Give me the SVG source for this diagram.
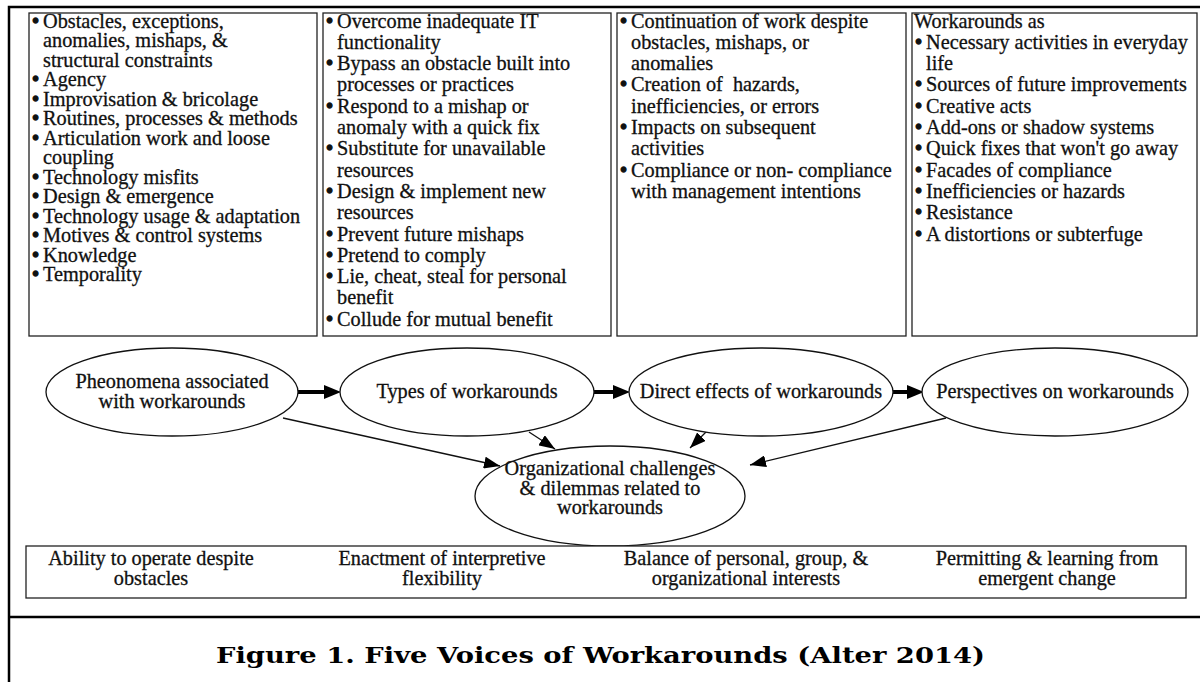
<svg xmlns="http://www.w3.org/2000/svg" width="1200" height="682" viewBox="0 0 1200 682">
<style>
.t{font-family:"Liberation Serif","Times New Roman",serif;font-size:20.3px;fill:#111;stroke:#111;stroke-width:0.3}
.b{stroke-width:1.3}
.c{text-anchor:middle}
.box{fill:#fff;stroke:#222;stroke-width:1.3}
.ell{fill:#fff;stroke:#111;stroke-width:1.3}
.frame{stroke:#000;stroke-width:2.5;fill:none}
.thick{stroke:#000;stroke-width:4;fill:none}
.thin{stroke:#111;stroke-width:1.3;fill:none}
.title{font-family:"DejaVu Serif","Liberation Serif",serif;font-weight:bold;font-size:23px;fill:#000}
</style>
<defs>
<marker id="big" viewBox="0 0 17 14" refX="0" refY="7" markerWidth="17" markerHeight="14" markerUnits="userSpaceOnUse" orient="auto"><path d="M0,0 L17,7 L0,14 z" fill="#000"/></marker>
<marker id="small" viewBox="0 0 16 12" refX="16" refY="6" markerWidth="16" markerHeight="12" markerUnits="userSpaceOnUse" orient="auto"><path d="M0,0 L16,6 L0,12 z" fill="#000"/></marker>
</defs>
<rect width="1200" height="682" fill="#fff"/>
<g id="frame">
<path class="frame" d="M9,682 V7 H1200"/>
<path class="frame" d="M9,617 H1200"/>
</g>
<g id="box1">
<rect class="box" x="29" y="13" width="288" height="323"/>
<text class="t"><tspan class="b" x="32" y="27.5">•</tspan><tspan x="43" y="27.5">Obstacles, exceptions,</tspan><tspan x="43" y="47">anomalies, mishaps, &amp;</tspan><tspan x="43" y="66.5">structural constraints</tspan><tspan class="b" x="32" y="86">•</tspan><tspan x="43" y="86">Agency</tspan><tspan class="b" x="32" y="105.5">•</tspan><tspan x="43" y="105.5">Improvisation &amp; bricolage</tspan><tspan class="b" x="32" y="125">•</tspan><tspan x="43" y="125">Routines, processes &amp; methods</tspan><tspan class="b" x="32" y="144.5">•</tspan><tspan x="43" y="144.5">Articulation work and loose</tspan><tspan x="43" y="164">coupling</tspan><tspan class="b" x="32" y="183.5">•</tspan><tspan x="43" y="183.5">Technology misfits</tspan><tspan class="b" x="32" y="203">•</tspan><tspan x="43" y="203">Design &amp; emergence</tspan><tspan class="b" x="32" y="222.5">•</tspan><tspan x="43" y="222.5">Technology usage &amp; adaptation</tspan><tspan class="b" x="32" y="242">•</tspan><tspan x="43" y="242">Motives &amp; control systems</tspan><tspan class="b" x="32" y="261.5">•</tspan><tspan x="43" y="261.5">Knowledge</tspan><tspan class="b" x="32" y="281">•</tspan><tspan x="43" y="281">Temporality</tspan></text>
</g>
<g id="box2">
<rect class="box" x="323" y="13" width="288" height="323"/>
<text class="t"><tspan class="b" x="326" y="27.5">•</tspan><tspan x="337" y="27.5">Overcome inadequate IT</tspan><tspan x="337" y="48.8">functionality</tspan><tspan class="b" x="326" y="70.1">•</tspan><tspan x="337" y="70.1">Bypass an obstacle built into</tspan><tspan x="337" y="91.4">processes or practices</tspan><tspan class="b" x="326" y="112.7">•</tspan><tspan x="337" y="112.7">Respond to a mishap or</tspan><tspan x="337" y="134">anomaly with a quick fix</tspan><tspan class="b" x="326" y="155.3">•</tspan><tspan x="337" y="155.3">Substitute for unavailable</tspan><tspan x="337" y="176.6">resources</tspan><tspan class="b" x="326" y="197.9">•</tspan><tspan x="337" y="197.9">Design &amp; implement new</tspan><tspan x="337" y="219.2">resources</tspan><tspan class="b" x="326" y="240.5">•</tspan><tspan x="337" y="240.5">Prevent future mishaps</tspan><tspan class="b" x="326" y="261.8">•</tspan><tspan x="337" y="261.8">Pretend to comply</tspan><tspan class="b" x="326" y="283.1">•</tspan><tspan x="337" y="283.1">Lie, cheat, steal for personal</tspan><tspan x="337" y="304.4">benefit</tspan><tspan class="b" x="326" y="325.7">•</tspan><tspan x="337" y="325.7">Collude for mutual benefit</tspan></text>
</g>
<g id="box3">
<rect class="box" x="617" y="13" width="289" height="323"/>
<text class="t"><tspan class="b" x="620" y="27.5">•</tspan><tspan x="631" y="27.5">Continuation of work despite</tspan><tspan x="631" y="48.8">obstacles, mishaps, or</tspan><tspan x="631" y="70.1">anomalies</tspan><tspan class="b" x="620" y="91.4">•</tspan><tspan x="631" y="91.4">Creation of&#160; hazards,</tspan><tspan x="631" y="112.7">inefficiencies, or errors</tspan><tspan class="b" x="620" y="134">•</tspan><tspan x="631" y="134">Impacts on subsequent</tspan><tspan x="631" y="155.3">activities</tspan><tspan class="b" x="620" y="176.6">•</tspan><tspan x="631" y="176.6">Compliance or non- compliance</tspan><tspan x="631" y="197.9">with management intentions</tspan></text>
</g>
<g id="box4">
<rect class="box" x="912" y="13" width="285" height="323"/>
<text class="t"><tspan x="914" y="27.5">Workarounds as</tspan><tspan class="b" x="915" y="48.8">•</tspan><tspan x="926" y="48.8">Necessary activities in everyday</tspan><tspan x="926" y="70.1">life</tspan><tspan class="b" x="915" y="91.4">•</tspan><tspan x="926" y="91.4">Sources of future improvements</tspan><tspan class="b" x="915" y="112.7">•</tspan><tspan x="926" y="112.7">Creative acts</tspan><tspan class="b" x="915" y="134">•</tspan><tspan x="926" y="134">Add-ons or shadow systems</tspan><tspan class="b" x="915" y="155.3">•</tspan><tspan x="926" y="155.3">Quick fixes that won't go away</tspan><tspan class="b" x="915" y="176.6">•</tspan><tspan x="926" y="176.6">Facades of compliance</tspan><tspan class="b" x="915" y="197.9">•</tspan><tspan x="926" y="197.9">Inefficiencies or hazards</tspan><tspan class="b" x="915" y="219.2">•</tspan><tspan x="926" y="219.2">Resistance</tspan><tspan class="b" x="915" y="240.5">•</tspan><tspan x="926" y="240.5">A distortions or subterfuge</tspan></text>
</g>
<g id="connectors">
<path class="thick" d="M298,392 H324" marker-end="url(#big)"/>
<path class="thick" d="M594,392 H613" marker-end="url(#big)"/>
<path class="thick" d="M893,392 H907" marker-end="url(#big)"/>
<path class="thin" d="M283,418 L500,466" marker-end="url(#small)"/>
<path class="thin" d="M529,432 L555,449" marker-end="url(#small)"/>
<path class="thin" d="M706,432 L690,448" marker-end="url(#small)"/>
<path class="thin" d="M946,418 L750,465" marker-end="url(#small)"/>
</g>
<g id="n1">
<ellipse class="ell" cx="172" cy="392" rx="126" ry="44"/>
<text class="t c"><tspan x="172" y="388">Pheonomena associated</tspan><tspan x="172" y="408">with workarounds</tspan></text>
</g>
<g id="n2">
<ellipse class="ell" cx="467" cy="392" rx="127" ry="44"/>
<text class="t c" x="467" y="398">Types of workarounds</text>
</g>
<g id="n3">
<ellipse class="ell" cx="761" cy="392" rx="132" ry="44"/>
<text class="t c" x="761" y="398">Direct effects of workarounds</text>
</g>
<g id="n4">
<ellipse class="ell" cx="1055" cy="392" rx="133" ry="44"/>
<text class="t c" x="1055" y="398">Perspectives on workarounds</text>
</g>
<g id="n5">
<ellipse class="ell" cx="610" cy="496" rx="135" ry="50"/>
<text class="t c"><tspan x="610" y="475">Organizational challenges</tspan><tspan x="610" y="494.5">&amp; dilemmas related to</tspan><tspan x="610" y="514">workarounds</tspan></text>
</g>
<g id="bottom">
<rect class="box" x="26" y="546" width="1160" height="52"/>
<text class="t c"><tspan x="151" y="565">Ability to operate despite</tspan><tspan x="151" y="585">obstacles</tspan></text>
<text class="t c"><tspan x="442" y="565">Enactment of interpretive</tspan><tspan x="442" y="585">flexibility</tspan></text>
<text class="t c"><tspan x="746" y="565">Balance of personal, group, &amp;</tspan><tspan x="746" y="585">organizational interests</tspan></text>
<text class="t c"><tspan x="1047" y="565">Permitting &amp; learning from</tspan><tspan x="1047" y="585">emergent change</tspan></text>
</g>
<text class="title" x="216" y="663" textLength="769" lengthAdjust="spacingAndGlyphs">Figure 1. Five Voices of Workarounds (Alter 2014)</text>
</svg>
